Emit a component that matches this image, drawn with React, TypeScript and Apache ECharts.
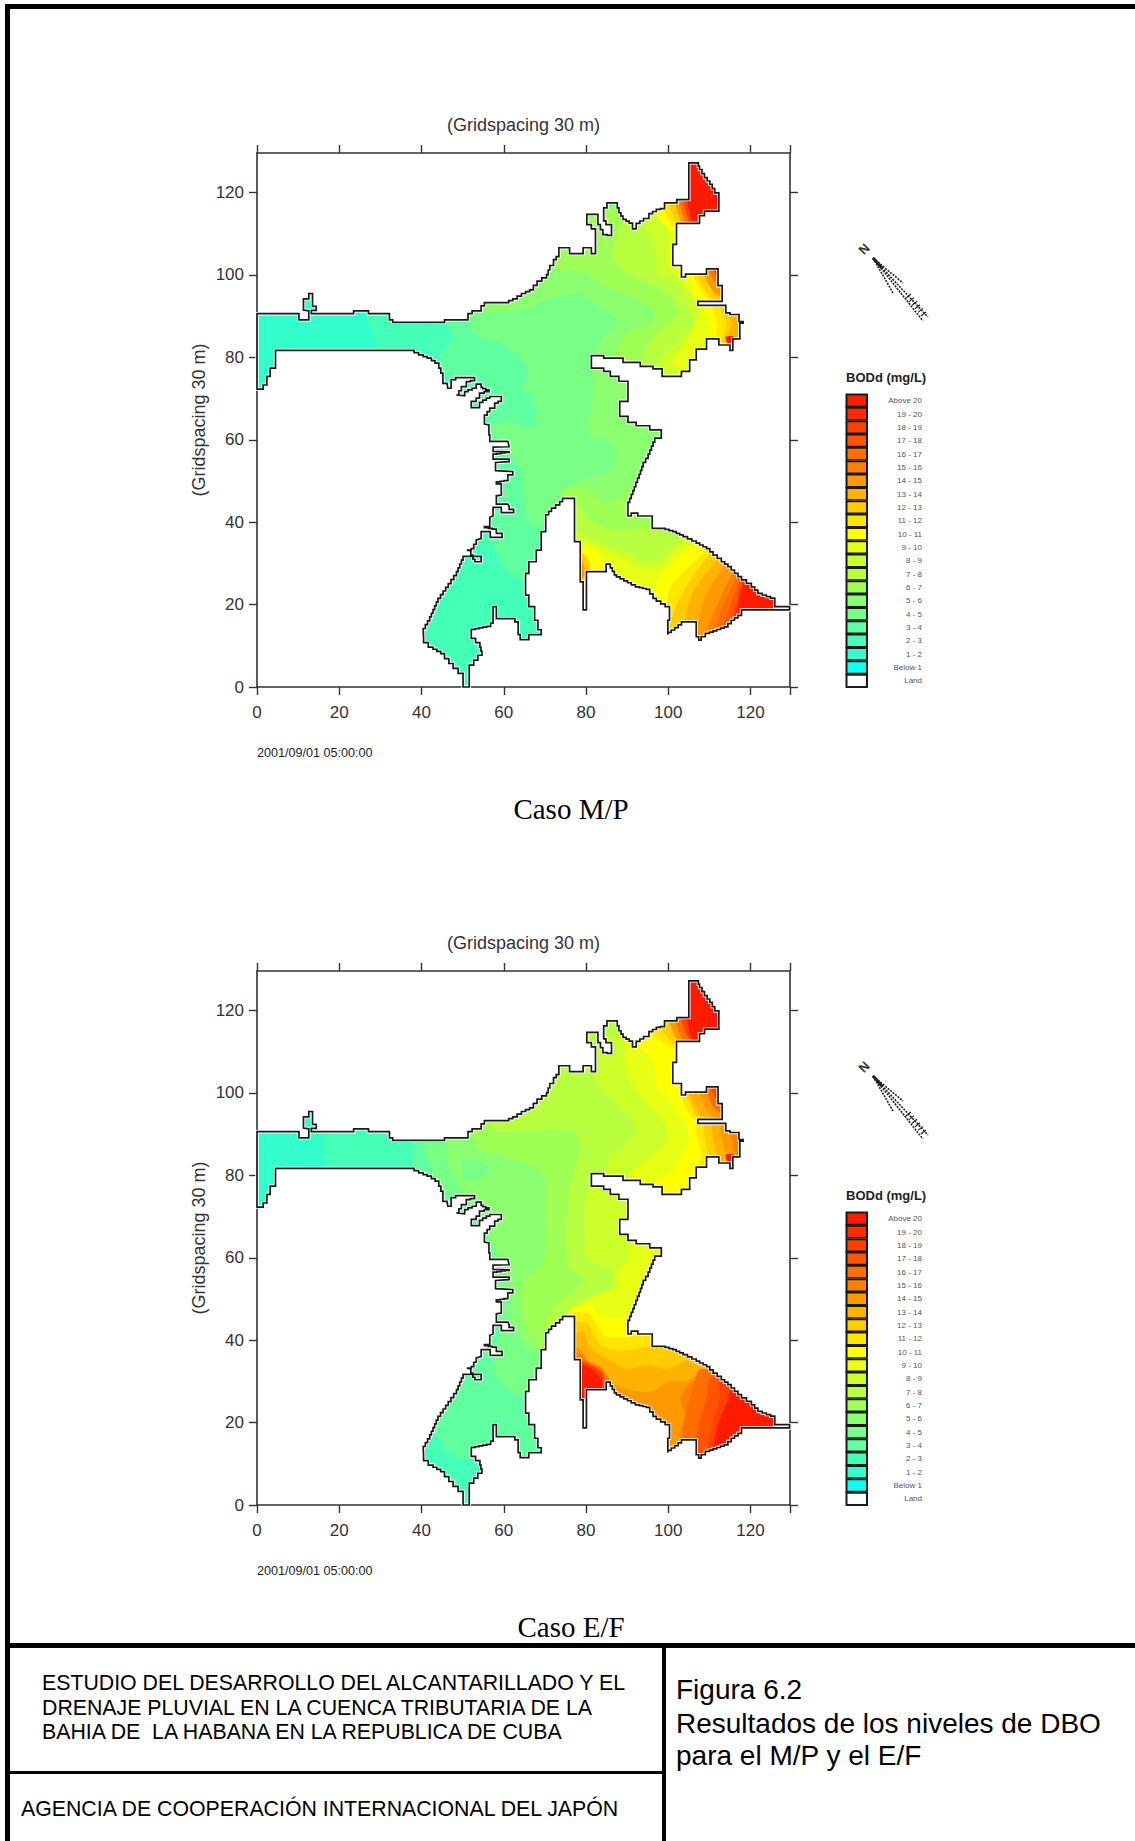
import React, { useEffect, useRef } from "react";
import * as echarts from "echarts";

const xTicks = [0, 20, 40, 60, 80, 100, 120];
const yTicks = [0, 20, 40, 60, 80, 100, 120];
const axisEnd = 129.6;
const gridName = "(Gridspacing 30 m)";
const stamp = "2001/09/01 05:00:00";
const legendLabels = ["Above 20", "19 - 20", "18 - 19", "17 - 18", "16 - 17", "15 - 16", "14 - 15", "13 - 14", "12 - 13", "11 - 12", "10 - 11", "9 - 10", "8 - 9", "7 - 8", "6 - 7", "5 - 6", "4 - 5", "3 - 4", "2 - 3", "1 - 2", "Below 1", "Land"];
const bandColors = ["#10ffee", "#33ffcc", "#44ffb8", "#60ffa0", "#78ff85", "#8cff70", "#a0ff55", "#b8ff40", "#ccff2a", "#e6ff14", "#ffff00", "#ffe600", "#ffcc00", "#ffb300", "#ff9900", "#ff8000", "#ff6e00", "#ff5500", "#ff4000", "#ff2a00", "#ff1a00"];

// Shoreline, clockwise from the channel mouth.
const shoreline: number[][] = [
  [0,90.6],[10.2,90.6],[10.2,89.1],[12.6,89.1],[12.6,91.3],[11.3,91.5],[11.3,94.2],[12.6,94.2],[12.6,95.5],[13.5,95.5],[13.5,92.4],[14.4,92.4],[14.4,91.4],[13.2,91.4],[13.2,90.6],[23.5,90.6],[23.5,91.3],[27.1,91.3],[27.1,90.6],[32.2,90.6],[32.2,89.1],[33,89.1],[33,88.5],[45.6,88.5],[45.6,89.1],[51.3,89.1],[51.3,90.6],[52.3,90.6],[52.3,91.3],[54.5,91.3],[54.5,92.5],[55.3,92.5],[55.3,93.3],
  [60.2,93.3],[62.2,94.2],[64.3,95.5],[66.3,96.4],[68.1,98.5],[70.4,100.1],[71.2,102.3],[72.1,103.7],[73.4,105.2],[73.4,106.6],[76,106.6],[76,105.2],[79.3,105.2],[79.3,106.6],[81.3,106.6],[81.3,105.2],[82.3,105.2],[82.3,111.2],[81.3,112.2],[80.2,112.2],[80.2,114.7],[82.9,114.7],[82.9,112.2],[84.1,109.8],[86.2,109.4],[86.2,112.2],[85.4,112.2],[84.3,114.1],[84.3,116.3],[85.1,117.5],[87.2,117.5],[88,115.1],[89,113.5],[90.5,112.6],[91.3,111.2],[92.2,112.5],[94,113.7],[95.3,114.9],[97.1,115.9],[99.1,116.3],[99.1,117.5],[102.1,117.5],[102.1,118.3],[105,118.3],[105,127.2],[107,127.2],[107.6,125.6],[108.8,123.6],[110.1,122],[111.3,119.9],[112.3,119],[112.3,115.5],[110.1,115.5],[108.8,114.4],[107.6,113.5],[107.6,112.5],[103.2,112.5],[102,111.4],[102,107.4],[101.1,107.4],[101.1,102.3],[102,102.3],[103.2,101.5],[103.2,99.5],[104.2,99.5],[104.2,100.2],[109.3,100.2],[109.3,101.5],[112.1,101.5],[112.1,97.4],[113.1,97.4],[113.1,93.6],[107.2,93.6],[107.2,92.6],[114,92.6],[114,90.8],[115,90.4],[117.2,90.4],[117.2,88.7],[118.2,88.7],[118.2,88.3],[117.4,88.3],[117.4,84.5],[115.7,84.5],[115.7,81.7],[115,81.7],[115,83],[112.3,83],[112.3,84.5],[109.3,84.5],[109.3,82],[106.8,82],[106.8,79.4],[105.2,79.4],[105.2,76.6],[103.2,76.6],[103.2,75.4],[98.5,75.4],[98.5,77.2],[96.3,77.2],[96.3,77.8],[93.2,77.8],[93.2,78.8],[89,78.8],[89,79.8],[84.3,79.8],[84.3,80.4],[81.3,80.4],[81.3,77.4],[84.3,77.4],[84.3,76.6],[85.9,76.6],[85.9,75.4],[88,75.4],[88,74.2],[90.2,74.2],
  [90.2,69.3],[88.2,69.3],[88.2,65.7],[90.2,65.7],[90.2,64.2],[92.2,64.2],[92.2,63.4],[95.5,63.4],[95.5,62.4],[98.3,62.4],[98.3,60.4],[97.1,60.4],[95.9,57.5],[95.1,55.5],[93.9,53.5],[92.9,50.7],[92.1,48.6],[91,45.8],[90.2,43.8],[90.2,41.5],[91,41.5],[91,42.2],[92.6,42.2],[92.6,41.5],[96.1,41.5],[96.1,38.5],[98.3,38.5],[101.1,37.7],[103.6,36.5],[106.8,34.9],[109.3,33.6],[110.9,32],[112.9,30.4],[114.5,29.2],[116.1,27.6],[117.8,26],[120.2,24.3],[121.8,22.7],[125.9,21.2],[125.9,19.5],[129.5,19.5],[129.5,18.7],[118.6,18.7],[117.8,17.4],[116.1,16.2],[114.5,14.6],[110,13],[108,11.4],[106.8,13],[106.8,15.8],[104,15.8],[102.4,14.4],[99.9,12.7],[99.9,16.2],[100.3,16.2],[100.3,19.5],[97.1,21.5],[95.5,23.7],[93,24.3],[91,25.3],[87.4,27.2],[85.9,29.8],[84.9,29.8],[84.9,28],[80.1,28],[80.1,18.7],[79.3,18.7],[79.3,25.5],[78.6,25.5],[78.6,35.3],[77.2,35.3],[77.2,45.8],[75,45.8],[73.6,44.2],[71.6,42.6],[70.2,41],[70.2,37.7],[69.1,37.7],[69.1,33.2],[67.9,33.2],[67.9,30.4],[66.1,30.4],[66.1,27.6],[65.3,27.6],[65.3,22.3],[66.1,22.3],[66.1,19.5],[67.5,19.5],[67.5,16.2],[68.3,16.2],[68.3,13.9],[69.1,13.9],[69.1,12.7],[66.1,12.7],[66.1,11.5],[64,11.5],[64,12.7],[63.5,12.7],[63.5,15.8],[62.7,15.8],[62.7,16.6],[58.2,16.6],[58.2,19.5],[57.4,19.5],[57.4,15.5],[56.8,14.7],[52.1,13.8],[52.1,11.8],[54.2,9.7],[54.7,7.7],[52.7,5.3],[51.6,5.3],[51.6,0],[50.1,0],[50.1,3.3],[47.7,5.7],[45.6,8.1],[42.8,9.7],[40.5,11.8],[40.4,14.2],[42,17],[44,21.5],[46.5,25.1],[48.5,28],[50.1,31.7],[53.8,31.7],[54.5,30.4],[53,30.4],[53,31],[52,33],[51,33.2],
  [52.1,33.6],[53.3,35.7],[54.5,36],[54.5,37.7],[56.2,37.7],[56.7,36.3],[59.6,36.3],[59.6,37.3],[58.2,38.3],[55.3,38.9],[56.6,39.3],[56.6,41.2],[57.4,41.5],[57.4,43.6],[59,43.6],[59.4,42.3],[62.4,42.3],[62.4,43.1],[61.3,43.8],[61,44.4],[58.2,44.4],[58.2,46.4],[59.4,46.6],[59.4,49.3],[58.2,49.8],[61,50.2],[61,51.5],[62.2,52.3],[58,52.5],[58,54.5],[61.3,54.7],[61.3,55.3],[57.4,55.3],[57.4,56.5],[61.3,57.1],[57.4,57.2],[57.4,58.2],[61.3,58.3],[61,59.6],[56.6,59.6],[56.6,61.2],
  [56.4,61.2],[56.4,63.6],[55.3,63.8],[55.3,66],[56.6,67.7],[57.8,68.9],[59.4,69.7],[59.4,70.5],[57.4,70.5],[56.6,70.1],[54.9,69.1],[54.1,67.8],[52.1,67.8],[52.1,69.3],[53.3,70.1],[54.1,71.3],[56.4,72.1],[54.9,72.7],[54.5,73.5],[53.3,72.5],[51.3,71.7],[50.5,70.7],[48.5,70.9],[49.7,72.9],[50.9,74.1],[52.9,74.6],[52.9,75.1],[49.7,75.1],[48.3,74.6],[47.2,73.7],[47.2,72.5],[46.4,72.5],[46.2,73.7],[45.2,74.1],[45.2,76.2],[44.2,78.6],[42.4,79.8],[40.4,80.6],[38.2,81.7],[4.5,81.7],[4.5,77.4],[3.2,77.4],[3.2,75.4],[2.4,75.4],[2.4,73.3],[1.5,73.3],[1.5,72.3],[0,72.3],
];

type Patch = { level: number; pts: number[][] };
const all = [[-5,-5],[135,-5],[135,135],[-5,135]];

// Contour zones of the M/P case, lowest first.
const casoMP: Patch[] = [
  { level: 2, pts: all },
  { level: 1, pts: [[-2,95],[27,95],[27,88],[29,83],[27,80],[-2,68]] },
  { level: 3, pts: [[45,96],[46,88],[47.5,84.3],[44,80],[46,76],[48,73],[56,66],[56.5,50],[56,40],[58,32],[61.5,27.5],[65,26.4],[70,26],[80,26],[140,0],[140,140],[45,140]] },
  { level: 4, pts: [[52,95],[52,87],[54,85],[59,83.5],[64.7,79.4],[66,76],[64.3,73],[67,70],[68,66],[67,63.2],[64.7,63.2],[60.6,64.8],[57,62.4],[61.4,56.7],[64.3,52],[64.7,45.4],[66.3,39.7],[68.7,39],[72,40],[76,38],[140,0],[140,140],[52,140]] },
  { level: 5, pts: [[52,110],[52,92],[56.6,90.8],[64.7,91.6],[70.4,94],[77.6,95.6],[81.7,93.2],[87.8,88.7],[84.1,85],[83,82.3],[81.3,79.4],[81.7,75.4],[81.3,67.3],[80.5,61.6],[84.5,60],[87.4,56.7],[86.6,53.5],[83.3,51.5],[78.5,50.3],[75.2,47],[76,40],[140,40],[140,110]] },
  { level: 6, pts: [[66,110],[72.8,101.3],[79.3,100.9],[83.3,98],[89,95.6],[96.3,92],[96.7,89.1],[89.8,85.9],[87.8,82.7],[87.4,78],[140,70],[140,125]] },
  { level: 6, pts: [[74,47.5],[80,48],[84.1,45],[88.2,45.8],[90.6,47.5],[100,45],[140,30],[140,0],[74,0]] },
  { level: 7, pts: [[91,115],[87,108],[86.6,104.5],[89,101],[93.9,98.9],[99.5,95.6],[102.4,90.8],[98,86.7],[94.7,82.7],[94,76],[140,70],[140,125]] },
  { level: 7, pts: [[76,46],[77.6,44.6],[80.9,40.5],[86.6,38.1],[95.5,38.5],[100,37],[140,20],[140,0],[76,0]] },
  { level: 8, pts: [[94,116],[94,113],[96.7,106],[97,101],[102,98],[105.5,91],[106,88],[102,83.5],[98,79],[98,70],[140,70],[140,125]] },
  { level: 8, pts: [[76,38.5],[77.6,38.1],[82.5,35.3],[90.6,32.4],[94.7,30.4],[98.7,31.6],[102,35.7],[105,38],[140,30],[140,0],[76,0]] },
  { level: 9, pts: [[97,117],[100,112],[100,103],[103,99],[107,92.4],[106.5,88],[104,83.5],[101,78],[140,70],[140,125]] },
  { level: 9, pts: [[76,36],[78,35.7],[83.3,34],[93,29.2],[97.9,29.2],[102,33.2],[106,35.7],[112,36],[140,30],[140,0],[76,0]] },
  { level: 10, pts: [[78,34],[82,33],[84.5,30],[84,26],[78,24]] },
  { level: 12, pts: [[78,33],[80.5,31],[81,28],[78,25]] },
  { level: 14, pts: [[78,31],[79.5,29.5],[79.5,27],[78,25]] },
  { level: 16, pts: [[78,29],[79,28],[79,26],[78,25]] },
  { level: 10, pts: [[97,25],[106,34],[112,36],[140,40],[140,0],[97,0]] },
  { level: 11, pts: [[100.3,23.5],[108,32],[113,36],[140,40],[140,0],[100.3,0]] },
  { level: 12, pts: [[100.5,15],[103,22],[109,31],[114,36],[140,40],[140,0],[100.5,0]] },
  { level: 13, pts: [[104,16],[106,23],[111,30],[116,36],[140,40],[140,0],[104,0]] },
  { level: 14, pts: [[107,14],[109,22],[113,28.5],[118,36],[140,40],[140,0],[107,0]] },
  { level: 15, pts: [[109,12],[112,20],[115,26.5],[120,36],[140,40],[140,0],[109,0]] },
  { level: 16, pts: [[111,11],[113,19],[116,25.5],[121,36],[140,40],[140,0],[111,0]] },
  { level: 17, pts: [[112.5,11],[114.5,18],[117,25],[122,36],[140,40],[140,0],[112.5,0]] },
  { level: 18, pts: [[113.5,11],[115.5,17],[118,24.5],[123,36],[140,40],[140,0],[113.5,0]] },
  { level: 19, pts: [[114.5,11],[116.5,18],[118,25],[124,36],[140,40],[140,0],[114.5,0]] },
  { level: 20, pts: [[115.5,11],[117,19],[119,26],[125,36],[140,40],[140,0],[115.5,0]] },
  { level: 10, pts: [[97,115],[101,111],[116,111],[116,130],[97,130]] },
  { level: 11, pts: [[98.5,117],[102.5,111],[116,111],[116,130],[98.5,130]] },
  { level: 12, pts: [[100,118],[103.5,111],[116,111],[116,130],[100,130]] },
  { level: 14, pts: [[101.5,118.5],[104.5,111],[116,111],[116,130],[101.5,130]] },
  { level: 16, pts: [[102.5,119],[105.5,111],[116,111],[116,130],[102.5,130]] },
  { level: 18, pts: [[103.5,119],[106,112],[116,112],[116,130],[103.5,130]] },
  { level: 20, pts: [[104.5,120],[106.5,112],[116,112],[116,130],[104.5,130]] },
  { level: 10, pts: [[104.5,100],[108,93.5],[120,93.5],[120,103],[104.5,103]] },
  { level: 11, pts: [[106,100],[110,94],[120,94],[120,103],[106,103]] },
  { level: 12, pts: [[107,100],[111,94],[120,94],[120,103],[107,103]] },
  { level: 14, pts: [[108,101.5],[112,95],[120,95],[120,103],[108,103]] },
  { level: 16, pts: [[109.5,102],[112.5,97],[120,97],[120,103],[109.5,103]] },
  { level: 20, pts: [[110.5,102],[113,99],[120,99],[120,103],[110.5,103]] },
  { level: 10, pts: [[109,92.6],[110,87],[109,80],[125,80],[125,92.6]] },
  { level: 11, pts: [[111,92.6],[112,88],[111,80],[125,80],[125,92.6]] },
  { level: 12, pts: [[113,92.6],[114,88],[113,80],[125,80],[125,92.6]] },
  { level: 13, pts: [[115,92.6],[115.5,88],[114.5,85],[125,85],[125,92.6]] },
  { level: 20, pts: [[114,85],[116,85],[115.5,82],[114.5,83]] },
];

// Contour zones of the E/F case, lowest first.
const casoEF: Patch[] = [
  { level: 3, pts: all },
  { level: 1, pts: [[-2,95],[18,95],[20,82],[18,78],[-2,68]] },
  { level: 2, pts: [[18,95],[36,95],[38,85],[36,79],[18,78]] },
  { level: 2, pts: [[38,16],[44,16.5],[46.5,12.4],[52.5,10.8],[56,10],[56,-1],[38,-1]] },
  { level: 4, pts: [[40,96],[41,85],[44,78],[50,72],[56,65],[58,50],[59,41.6],[57.4,36],[58.2,31],[62.3,27],[66,27],[80,20],[140,0],[140,140],[40,140]] },
  { level: 5, pts: [[46,96],[46,85],[50,76],[56,66],[59,60],[62,50],[62,44],[66,38],[70,36],[140,0],[140,140],[46,140]] },
  { level: 4, pts: [[50,84],[55,83],[56.5,81],[54,79],[50,79]] },
  { level: 6, pts: [[50,96],[54,86.5],[60.6,84.5],[68,82],[70,78.8],[70,70],[70.4,66.7],[69.5,58.6],[65,54.5],[64.3,48],[66,42.4],[68.3,38.3],[72,38],[140,0],[140,140],[50,140]] },
  { level: 7, pts: [[56,96],[57.4,91],[68,91],[76.8,91],[78.5,87],[77.2,81.2],[75.6,74.8],[75.2,61.8],[76,58],[79.7,54.1],[75.2,50.5],[70.4,45.2],[72,40],[140,0],[140,140],[56,140]] },
  { level: 8, pts: [[82.5,112],[82.5,103],[86.6,98.3],[90.6,94.2],[92.2,90.2],[85.8,84.5],[85,82],[80,75],[79.7,65],[80,60],[86,57],[86.6,53],[83.3,51.3],[79.3,49.7],[75.2,46.4],[76,40],[140,30],[140,125]] },
  { level: 9, pts: [[90,115],[89.8,105.6],[92.2,100.7],[95.5,96.6],[99.5,91.8],[98.7,87],[91.4,81.2],[90,75],[90.6,60.2],[87.5,56],[87.5,53],[80,49.7],[76.8,46.8],[76,44],[140,30],[140,125]] },
  { level: 10, pts: [[92,116],[92.2,112],[96.3,108],[97,102.3],[100.3,98.3],[104.8,91],[104.4,87.7],[100.7,80.4],[97,78.5],[96,70],[140,70],[140,125]] },
  { level: 10, pts: [[76,47],[80.9,48.5],[83.3,46],[86.6,45.2],[90.6,45.6],[96,42],[140,30],[140,0],[76,0]] },
  { level: 11, pts: [[76,46],[80.9,46.4],[82.9,43.2],[84.9,40.8],[89.8,40.8],[95,41],[140,30],[140,0],[76,0]] },
  { level: 12, pts: [[77,44],[80.5,44],[82,41],[84,38.5],[88,37.5],[93,38],[98,39],[102,37],[140,30],[140,0],[77,0]] },
  { level: 13, pts: [[77,41],[79.5,42],[80.5,39],[83,36.5],[86,35],[90,33],[95,34],[100,33],[104,35],[107,34],[140,30],[140,0],[77,0]] },
  { level: 14, pts: [[77,38],[78.5,38],[81,34.5],[84,31],[90,28],[96,27.5],[100,30],[104,30],[108,32],[140,30],[140,0],[77,0]] },
  { level: 15, pts: [[102.8,16.5],[104,22],[103,26],[106,30],[140,30],[140,0],[102.8,0]] },
  { level: 16, pts: [[103.6,18],[105.2,26],[106,28.6],[108,33],[140,30],[140,0],[103.6,0]] },
  { level: 17, pts: [[106.8,16.4],[109.3,26],[110.5,31],[140,30],[140,0],[106.8,0]] },
  { level: 18, pts: [[109.7,14.8],[112.5,26],[112.9,30.2],[140,30],[140,0],[109.7,0]] },
  { level: 20, pts: [[111.7,18],[114.5,25.4],[115.3,27.8],[140,30],[140,0],[111,0]] },
  { level: 15, pts: [[77,37],[79,36.5],[82,33],[85.5,31],[85.5,26],[77,24]] },
  { level: 16, pts: [[77,36],[80,35],[84,33],[85,30],[85,26],[77,24]] },
  { level: 18, pts: [[77,35],[81,34],[84,32],[84.5,28],[82,25],[77,24]] },
  { level: 20, pts: [[78,34],[80.5,33.5],[83,31.5],[84,29],[82,26],[77,24]] },
  { level: 11, pts: [[96,115],[101.5,111],[116,111],[116,130],[96,130]] },
  { level: 12, pts: [[98,116.5],[103,111],[116,111],[116,130],[98,130]] },
  { level: 14, pts: [[100,118],[104,111],[116,111],[116,130],[100,130]] },
  { level: 16, pts: [[101.5,118.5],[105,111],[116,111],[116,130],[101.5,130]] },
  { level: 18, pts: [[103,119],[106,112],[116,112],[116,130],[103,130]] },
  { level: 20, pts: [[104.3,120],[106.5,112],[116,112],[116,130],[104.3,130]] },
  { level: 11, pts: [[103,100],[106.5,93.5],[120,93.5],[120,103],[103,103]] },
  { level: 12, pts: [[104,100],[108,93.5],[120,93.5],[120,103],[104,103]] },
  { level: 13, pts: [[105,100],[109,93.5],[120,93.5],[120,103],[105,103]] },
  { level: 14, pts: [[107,101],[111,94],[120,94],[120,103],[107,103]] },
  { level: 16, pts: [[108.5,102],[112,95.5],[120,95.5],[120,103],[108.5,103]] },
  { level: 18, pts: [[110,102],[113,97],[120,97],[120,103],[110,103]] },
  { level: 20, pts: [[111,102],[113,98.5],[120,98.5],[120,103],[111,103]] },
  { level: 11, pts: [[107,92.6],[108,85],[107,78],[125,78],[125,92.6]] },
  { level: 12, pts: [[109,92.6],[110,84],[110,78],[125,78],[125,92.6]] },
  { level: 13, pts: [[111,92.6],[112,84],[112,78],[125,78],[125,92.6]] },
  { level: 14, pts: [[113,92.6],[114,84],[114,78],[125,78],[125,92.6]] },
  { level: 15, pts: [[115,92.6],[116.5,84],[116,78],[125,78],[125,92.6]] },
  { level: 20, pts: [[114,85],[116,85],[115.5,82],[114.5,83]] },
];

// Breaks a slanted shoreline leg into the cell steps of the model grid.
function stairs(points: number[][]): number[][] {
  const out: number[][] = [];
  points.forEach((p, i) => {
    const q = points[(i + 1) % points.length];
    const dx = q[0] - p[0];
    const dy = q[1] - p[1];
    out.push(p);
    if (Math.abs(dx) > 0.3 && Math.abs(dy) > 0.3) {
      const n = Math.max(1, Math.round(Math.max(Math.abs(dx), Math.abs(dy))));
      for (let k = 0; k < n; k++) {
        out.push([p[0] + (dx * (k + 1)) / n, p[1] + (dy * k) / n]);
        if (k < n - 1) out.push([p[0] + (dx * (k + 1)) / n, p[1] + (dy * (k + 1)) / n]);
      }
    }
  });
  return out;
}

const GRID_LEFT = 257;
const GRID_W = 533;
const GRID_H = 534;
const GRID_TOPS = [153, 971];
const AXIS_COLOR = "#333";
const FONT = "'Liberation Sans', Arial, sans-serif";

function axes(g: number) {
  const common = {
    gridIndex: g, type: "value" as const, min: 0, max: axisEnd, splitLine: { show: false },
    axisLine: { show: true, onZero: false, lineStyle: { color: AXIS_COLOR, width: 1.6 } },
    axisTick: { show: true, length: 8, lineStyle: { color: AXIS_COLOR, width: 1.4 } },
  };
  const xt = { ...common.axisTick, customValues: [...xTicks, axisEnd] };
  const yt = { ...common.axisTick, customValues: yTicks };
  const nameStyle = { color: AXIS_COLOR, fontSize: 18, fontFamily: FONT };
  return {
    x: [
      { ...common, position: "bottom", axisTick: xt, axisLabel: { customValues: xTicks, margin: 17, color: AXIS_COLOR, fontSize: 17, fontFamily: FONT } },
      { ...common, position: "top", axisTick: xt, axisLabel: { show: false }, name: gridName, nameLocation: "middle", nameGap: 19, nameTextStyle: nameStyle },
    ],
    y: [
      { ...common, position: "left", axisTick: yt, axisLabel: { customValues: yTicks, margin: 13, color: AXIS_COLOR, fontSize: 17, fontFamily: FONT }, name: gridName, nameLocation: "middle", nameGap: 49, nameRotate: 90, nameTextStyle: nameStyle },
      { ...common, position: "right", axisTick: yt, axisLabel: { show: false } },
    ],
  };
}

function bayMap(g: number, patches: Patch[]) {
  const water = stairs(shoreline);
  const items = patches.length;
  return {
    type: "custom", coordinateSystem: "cartesian2d", xAxisIndex: g * 2, yAxisIndex: g * 2, clip: false, silent: true,
    data: [...patches.map((_, i) => [i]), [items], [items + 1]],
    renderItem: (params: any, api: any) => {
      const i = params.dataIndex;
      const shore = water.map((p) => api.coord(p));
      if (i >= items) {
        return {
          type: "polygon", shape: { points: shore },
          style: i === items ? { fill: "none", stroke: "#ffffff", lineWidth: 3.4 } : { fill: "none", stroke: "#1a1a1a", lineWidth: 1.7 },
        };
      }
      return {
        type: "polygon",
        shape: { points: patches[i].pts.map((p) => api.coord(p)), smooth: patches[i].pts === all ? 0 : 0.25 },
        style: { fill: bandColors[patches[i].level], stroke: "none" },
        clipPath: { type: "polygon", shape: { points: shore } },
      };
    },
  };
}

function sideKey(dy: number): any[] {
  const els: any[] = [];
  const line = (x1: number, y1: number, x2: number, y2: number, dash = true, w = 1.6) =>
    els.push({ type: "line", shape: { x1, y1: y1 + dy, x2, y2: y2 + dy }, style: { stroke: "#222", lineWidth: w, lineDash: dash ? [2, 1.2] : undefined } });
  els.push({ type: "text", x: 864, y: 249 + dy, rotation: 0.8, style: { text: "N", font: `bold 13px ${FONT}`, fill: "#333", align: "center", verticalAlign: "middle" } });
  line(873, 258, 923, 321);
  line(873, 258, 928, 317);
  line(873, 258, 903, 283);
  line(873, 258, 893, 293);
  line(873, 258, 882, 268, false, 3);
  [0, 1, 2, 3, 4, 5].forEach((k) => line(906 + k * 3, 298 + k * 3.6, 911 + k * 3, 294 + k * 3.6, false, 1.2));
  els.push({ type: "text", x: 846, y: 377 + dy, style: { text: "BODd (mg/L)", font: `bold 13px ${FONT}`, fill: "#222", verticalAlign: "middle" } });
  const rowH = 13.34;
  legendLabels.forEach((label, k) => {
    const y = 394 + k * rowH + dy;
    const level = 20 - k;
    els.push({ type: "rect", shape: { x: 846.5, y: y + 0.5, width: 20.5, height: rowH - 1 }, style: { fill: level >= 0 ? bandColors[level] : "#ffffff", stroke: "#1a1a1a", lineWidth: 2 } });
    els.push({ type: "text", x: 922, y: y + rowH / 2, style: { text: label, font: `8px ${FONT}`, fill: "#555", align: "right", verticalAlign: "middle" } });
    if (k === 1 || (k > 1 && (k - 1) % 3 === 0)) {
      els.push({ type: "line", shape: { x1: 845, y1: y + rowH, x2: 868, y2: y + rowH }, style: { stroke: "#d8d8d8", lineWidth: 1 } });
    }
  });
  els.push({ type: "text", x: 257, y: 752.5 + dy, style: { text: stamp, font: `12.6px ${FONT}`, fill: "#222", verticalAlign: "middle" } });
  return els;
}

function pageFrame(): any[] {
  const bar = (x: number, y: number, width: number, height: number) => ({ type: "rect", shape: { x, y, width, height }, style: { fill: "#000" } });
  const txt = (x: number, y: number, text: string, font: string, align = "left") => ({ type: "text", x, y, style: { text, font, fill: "#000", align, verticalAlign: "middle" } });
  const sans21 = `21.3px ${FONT}`;
  const sans28 = `28px ${FONT}`;
  const serif = "29px 'Liberation Serif', 'Times New Roman', serif";
  return [
    bar(5, 4, 1130, 5), bar(5, 4, 5, 1837), bar(5, 1643, 1130, 5), bar(662, 1645, 4, 196), bar(5, 1771, 660, 3),
    txt(571, 809, "Caso M/P", serif, "center"), txt(571, 1627, "Caso E/F", serif, "center"),
    txt(42, 1683, "ESTUDIO DEL DESARROLLO DEL ALCANTARILLADO Y EL", sans21),
    txt(42, 1708, "DRENAJE PLUVIAL EN LA CUENCA TRIBUTARIA DE LA", sans21),
    txt(42, 1732, "BAHIA DE  LA HABANA EN LA REPUBLICA DE CUBA", sans21),
    txt(21, 1809, "AGENCIA DE COOPERACIÓN INTERNACIONAL DEL JAPÓN", sans21),
    txt(676, 1689, "Figura 6.2", sans28), txt(676, 1723, "Resultados de los niveles de DBO", sans28), txt(676, 1755, "para el M/P y el E/F", sans28),
  ];
}

export default function App() {
  const ref = useRef<HTMLDivElement>(null);
  useEffect(() => {
    document.body.style.margin = "0";
    const chart = echarts.init(ref.current!, undefined, { renderer: "svg" });
    const a0 = axes(0);
    const a1 = axes(1);
    chart.setOption({
      animation: false,
      backgroundColor: "#ffffff",
      grid: GRID_TOPS.map((top) => ({ left: GRID_LEFT, top, width: GRID_W, height: GRID_H })),
      xAxis: [...a0.x, ...a1.x],
      yAxis: [...a0.y, ...a1.y],
      series: [bayMap(0, casoMP), bayMap(1, casoEF)],
      graphic: { elements: [...pageFrame(), ...sideKey(0), ...sideKey(818)] },
    });
    return () => chart.dispose();
  }, []);
  return <div ref={ref} style={{ width: 1135, height: 1841 }} />;
}
